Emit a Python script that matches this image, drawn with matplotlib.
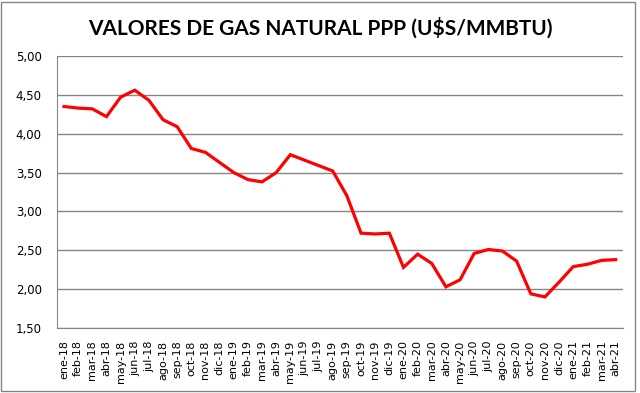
import matplotlib
matplotlib.use("Agg")
import matplotlib.pyplot as plt
from matplotlib.patches import Rectangle
from matplotlib.ticker import FuncFormatter, MultipleLocator

months = [
    "ene-18", "feb-18", "mar-18", "abr-18", "may-18", "jun-18", "jul-18", "ago-18",
    "sep-18", "oct-18", "nov-18", "dic-18", "ene-19", "feb-19", "mar-19", "abr-19",
    "may-19", "jun-19", "jul-19", "ago-19", "sep-19", "oct-19", "nov-19", "dic-19",
    "ene-20", "feb-20", "mar-20", "abr-20", "may-20", "jun-20", "jul-20", "ago-20",
    "sep-20", "oct-20", "nov-20", "dic-20", "ene-21", "feb-21", "mar-21", "abr-21",
]
prices = [
    4.35, 4.33, 4.32, 4.22, 4.47, 4.56, 4.43, 4.18,
    4.09, 3.81, 3.76, 3.63, 3.50, 3.41, 3.38, 3.50,
    3.73, 3.66, 3.59, 3.52, 3.20, 2.72, 2.71, 2.72,
    2.28, 2.45, 2.33, 2.03, 2.12, 2.46, 2.51, 2.49,
    2.36, 1.94, 1.90, 2.09, 2.29, 2.32, 2.37, 2.38,
]

fig = plt.figure(figsize=(6.4, 3.93), dpi=100)
fig.patches.append(Rectangle((0.002, 0.006), 0.99, 0.99, transform=fig.transFigure,
                             fill=False, edgecolor="#868686", linewidth=1.0))
ax = fig.add_axes((0.089, 0.1654, 0.884, 0.6921))

x = list(range(len(months)))
ax.plot(x, prices, color="#ff0000", linewidth=2.3, solid_joinstyle="miter")

ax.set_xlim(-0.5, len(months) - 0.5)
ax.set_ylim(1.5, 5.0)
ax.yaxis.set_major_locator(MultipleLocator(0.5))
ax.yaxis.set_major_formatter(FuncFormatter(lambda v, _p: f"{v:.2f}".replace(".", ",")))
ax.grid(axis="y", color="#868686", linewidth=1.0)
ax.set_axisbelow(True)

ax.set_xticks(x)
ax.set_xticklabels(months, rotation=90, fontsize=8, family="DejaVu Sans")
ax.tick_params(axis="x", length=0, pad=9)
ax.tick_params(axis="y", length=0, pad=11, labelsize=8.5)

for side in ("top", "right"):
    ax.spines[side].set_visible(False)
for side in ("left", "bottom"):
    ax.spines[side].set_color("#868686")

fig.text(0.5, 0.93, "VALORES DE GAS NATURAL PPP (U$S/MMBTU)", ha="center", va="center",
         fontsize=15, fontweight="bold", family="Lato")

fig.savefig("out.png", dpi=100)
